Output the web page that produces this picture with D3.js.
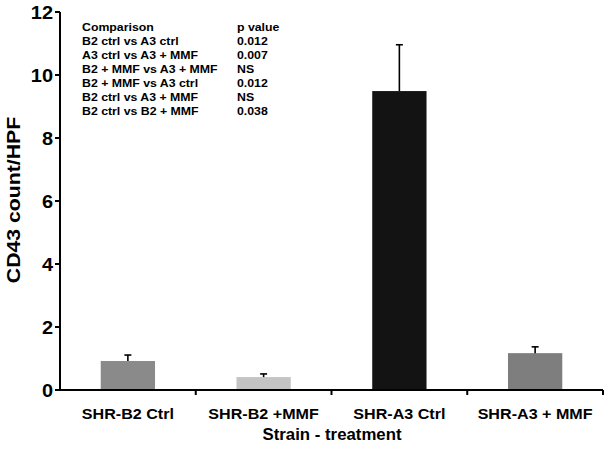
<!DOCTYPE html>
<html><head><meta charset="utf-8">
<script src="https://cdn.jsdelivr.net/npm/d3@7"></script>
<style>body{margin:0;background:#fff}svg{display:block}text{font-family:"Liberation Sans",Arial,sans-serif;font-weight:bold;fill:#000}</style>
</head><body><svg id="c" width="613" height="449"></svg>
<script>
const categories = ["SHR-B2 Ctrl", "SHR-B2 +MMF", "SHR-A3 Ctrl", "SHR-A3 + MMF"];
const means = [0.92, 0.41, 9.49, 1.17];
const errors = [0.19, 0.10, 1.47, 0.20];
const barColors = ["#8a8a8a", "#c4c4c4", "#131313", "#7e7e7e"];
const yTicks = [0, 2, 4, 6, 8, 10, 12];
const tableComparisons = ["Comparison", "B2 ctrl vs A3 ctrl", "A3 ctrl vs A3 + MMF", "B2 + MMF vs A3 + MMF", "B2 + MMF vs A3 ctrl", "B2 ctrl vs A3 + MMF", "B2 ctrl vs B2 + MMF"];
const tablePValues = ["p value", "0.012", "0.007", "NS", "0.012", "NS", "0.038"];
const yTitle = "CD43 count/HPF";
const xTitle = "Strain - treatment";

const svg = d3.select("#c");
const x = d3.scaleBand().domain(categories).range([60, 603]).padding(0);
const y = d3.scaleLinear().domain([0, 12]).range([390, 12]);

function txt(px, py, s, size, sx, anchor, rot) {
  const g = svg.append("g").attr("transform", `translate(${px},${py})` + (rot ? ` rotate(${rot})` : "") + ` scale(${sx},1)`);
  g.append("text").attr("text-anchor", anchor || "start").style("font-size", size + "px").text(s);
  return g;
}

// bars
const bw = x.bandwidth() * 0.4;
categories.forEach((c, i) => {
  const cx = x(c) + x.bandwidth() / 2;
  svg.append("rect").attr("x", cx - bw / 2).attr("y", y(means[i])).attr("width", bw)
    .attr("height", y(0) - y(means[i])).attr("fill", barColors[i]);
  svg.append("line").attr("x1", cx).attr("x2", cx).attr("y1", y(means[i])).attr("y2", y(means[i] + errors[i]))
    .attr("stroke", "#000").attr("stroke-width", 1.6);
  svg.append("line").attr("x1", cx - 3.5).attr("x2", cx + 3.5).attr("y1", y(means[i] + errors[i])).attr("y2", y(means[i] + errors[i]))
    .attr("stroke", "#000").attr("stroke-width", 1.6);
});

// y axis
svg.append("line").attr("x1", 60).attr("x2", 60).attr("y1", y(12)).attr("y2", y(0)).attr("stroke", "#000").attr("stroke-width", 2);
yTicks.forEach(t => {
  svg.append("line").attr("x1", 55).attr("x2", 60).attr("y1", y(t)).attr("y2", y(t)).attr("stroke", "#000").attr("stroke-width", 2);
  txt(53, y(t) + 6.6, String(t), 18.5, 1.08, "end");
});
// x axis
svg.append("line").attr("x1", 60).attr("x2", 603).attr("y1", y(0)).attr("y2", y(0)).attr("stroke", "#000").attr("stroke-width", 2);
categories.forEach((c, i) => {
  const xe = x(c) + x.bandwidth();
  svg.append("line").attr("x1", xe).attr("x2", xe).attr("y1", y(0)).attr("y2", y(0) + 5).attr("stroke", "#000").attr("stroke-width", 2);
  txt(x(c) + x.bandwidth() / 2, 418.5, c, 15.2, 1.06, "middle");
});

txt(332, 439.5, xTitle, 16, 1.05, "middle");
txt(19.5, 200, yTitle, 18, 1.18, "middle", -90);

tableComparisons.forEach((s, i) => {
  txt(82, 30.9 + 14.05 * i, s, 11, 1.12, "start");
  txt(237, 30.9 + 14.05 * i, tablePValues[i], 11, 1.12, "start");
});
</script></body></html>
